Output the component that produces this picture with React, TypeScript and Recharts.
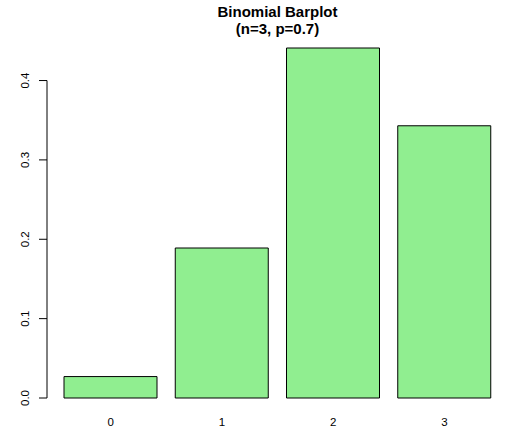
import { BarChart, Bar, XAxis, YAxis, ReferenceLine } from "recharts";

const outcomes = ["0", "1", "2", "3"];
const probabilities = [0.027, 0.189, 0.441, 0.343];
const yTicks = [0, 0.1, 0.2, 0.3, 0.4];
const titleLines = ["Binomial Barplot", "(n=3, p=0.7)"];

const data = outcomes.map((k, i) => ({ k, p: probabilities[i] }));

const FONT = '"Liberation Sans", Arial, Helvetica, sans-serif';

const YTick = ({ x, y, payload }: any) => (
  <text
    transform={`translate(${x - 8},${y}) rotate(-90)`}
    textAnchor="middle"
    fontSize={11.5}
    fontFamily={FONT}
    fill="#000"
  >
    {Number(payload.value).toFixed(1)}
  </text>
);

export default function App() {
  return (
    <div style={{ position: "absolute", left: 0, top: 0, width: 521, height: 442, background: "#fff" }}>
      <div
        style={{
          position: "absolute",
          left: 47,
          width: 461,
          top: 3,
          textAlign: "center",
          fontFamily: FONT,
          fontWeight: "bold",
          fontSize: 15,
          lineHeight: "17px",
          color: "#000",
        }}
      >
        <div>{titleLines[0]}</div>
        <div>{titleLines[1]}</div>
      </div>
      <BarChart width={521} height={442} data={data} margin={{ top: 34, right: 13, bottom: 0, left: 0 }}>
        <XAxis
          dataKey="k"
          height={30}
          padding={{ left: 8, right: 8 }}
          axisLine={false}
          tickLine={false}
          tickSize={4}
          tickMargin={2}
          tick={{ fill: "#000", fontSize: 11.5, fontFamily: FONT }}
        />
        <XAxis xAxisId="u" type="number" domain={[0, 1]} hide />
        <YAxis
          width={47}
          domain={[-0.01764, 0.45864]}
          allowDataOverflow
          ticks={yTicks}
          axisLine={false}
          tickSize={8}
          tickLine={{ stroke: "#000" }}
          tick={<YTick />}
        />
        <ReferenceLine
          xAxisId="u"
          segment={[
            { x: 0, y: yTicks[0] },
            { x: 0, y: yTicks[yTicks.length - 1] },
          ]}
          stroke="#000"
          ifOverflow="visible"
        />
        <Bar dataKey="p" fill="#90EE90" stroke="#000" strokeWidth={1} barSize={93} isAnimationActive={false} />
      </BarChart>
    </div>
  );
}
